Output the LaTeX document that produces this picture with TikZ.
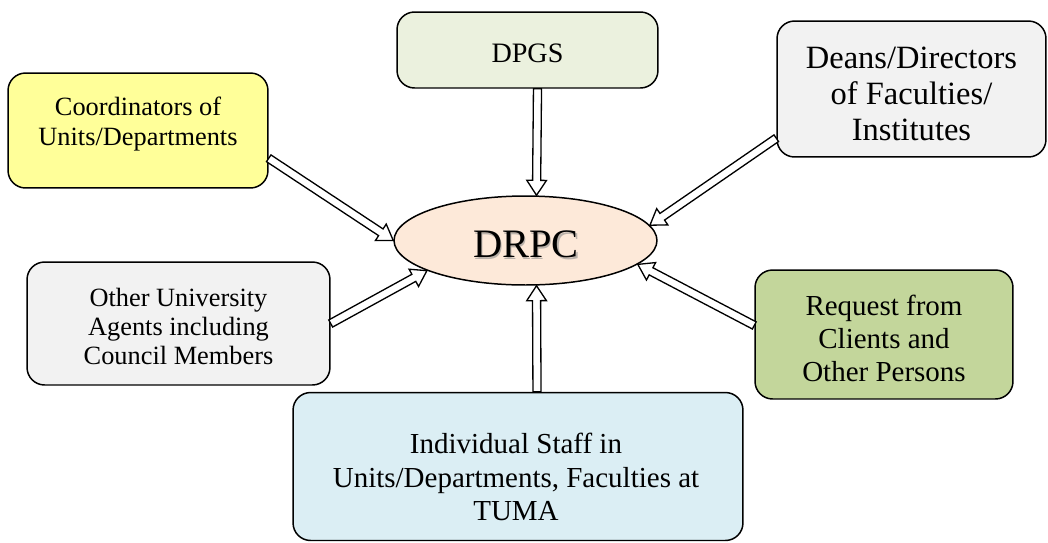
\documentclass[tikz,border=0pt]{standalone}
\usepackage{fontspec}
\setmainfont{Liberation Serif}
\usetikzlibrary{calc,shapes.geometric}
\definecolor{cDPGS}{HTML}{EBF1DE}
\definecolor{cCoord}{HTML}{FFFF99}
\definecolor{cGray}{HTML}{F2F2F2}
\definecolor{cReq}{HTML}{C3D69B}
\definecolor{cInd}{HTML}{DBEEF4}
\definecolor{cDRPC}{HTML}{FDE9D9}
\tikzset{
  boxshape/.style={draw=black, line width=0.85pt, rounded corners=10pt, inner sep=0pt},
  txt/.style={align=center, inner sep=0pt, text=black},
  arrowline/.style={draw=black, fill=white, line width=0.75pt, line join=miter},
}
\newcommand{\blockarrow}[2]{%
  \path #1 coordinate (ba) #2 coordinate (bb);
  \coordinate (bh) at ($(bb)!8.5pt!(ba)$);
  \draw[arrowline] ($(ba)!2.3pt!90:(bb)$) -- ($(bh)!2.3pt!-90:(ba)$) -- ($(bh)!5.6pt!-90:(ba)$) -- (bb)
     -- ($(bh)!5.6pt!90:(ba)$) -- ($(bh)!2.3pt!90:(ba)$) -- ($(ba)!2.3pt!-90:(bb)$) -- cycle;
}
\begin{document}
\begin{tikzpicture}[x=0.02cm, y=-0.02cm]
\useasboundingbox[fill=white] (0,0) rectangle (1048,542);
% boxes
\node[boxshape, fill=cDPGS, minimum width=5.22cm, minimum height=1.52cm] (dpgs) at (527.5,50) {};
\node[boxshape, fill=cCoord, minimum width=5.2cm, minimum height=2.3cm] (coord) at (138,130.5) {};
\node[boxshape, fill=cGray, minimum width=5.38cm, minimum height=2.72cm] (deans) at (911.5,89) {};
\node[boxshape, fill=cGray, minimum width=6.06cm, minimum height=2.46cm] (other) at (178.5,323.5) {};
\node[boxshape, fill=cReq, minimum width=5.16cm, minimum height=2.58cm] (req) at (884,334.5) {};
\node[boxshape, fill=cInd, minimum width=9.0cm, minimum height=2.96cm] (indiv) at (518,466.5) {};
\node[draw=black, line width=0.85pt, fill=cDRPC, ellipse, inner sep=0pt, minimum width=5.26cm, minimum height=1.78cm] (drpc) at (525.5,240.5) {};
% texts
\node[txt, font=\fontsize{16pt}{19pt}\selectfont] (dpgsT) at (527.5,53) {DPGS};
\node[txt, font=\fontsize{15pt}{17.6pt}\selectfont] (coordT) at (138,124) {Coordinators of\\Units/Departments};
\node[txt, font=\fontsize{18.5pt}{20.5pt}\selectfont] (deansT) at (911.5,94) {Deans/Directors\\of Faculties/\\Institutes};
\node[txt, font=\fontsize{15pt}{16.5pt}\selectfont] (otherT) at (178.5,326.5) {Other University\\Agents including\\Council Members};
\node[txt, font=\fontsize{16.5pt}{18.8pt}\selectfont] (reqT) at (884,338.5) {Request from\\Clients and\\Other Persons};
\node[txt, font=\fontsize{16.5pt}{19.3pt}\selectfont] (indivT) at (516,477) {Individual Staff in\\Units/Departments, Faculties at\\TUMA};
\node[txt, text=black!45, opacity=0.6, font=\fontsize{23pt}{26pt}\selectfont] (drpcS) at (527.5,246.5) {DRPC};
\node[txt, font=\fontsize{23pt}{26pt}\selectfont] (drpcT) at (526,244.5) {DRPC};
% arrows
\blockarrow{($(dpgs.south)+(10,0)$)}{($(drpc.north)+(11,0)$)}
\blockarrow{($(indiv.north)+(19,0)$)}{($(drpc.south)+(11,0)$)}
\blockarrow{(coord.-12.6)}{(drpc.west)}
\blockarrow{(deans.200)}{(drpc.7)}
\blockarrow{(other.east)}{(drpc.197)}
\blockarrow{(req.176)}{(drpc.-12)}
\end{tikzpicture}
\end{document}
